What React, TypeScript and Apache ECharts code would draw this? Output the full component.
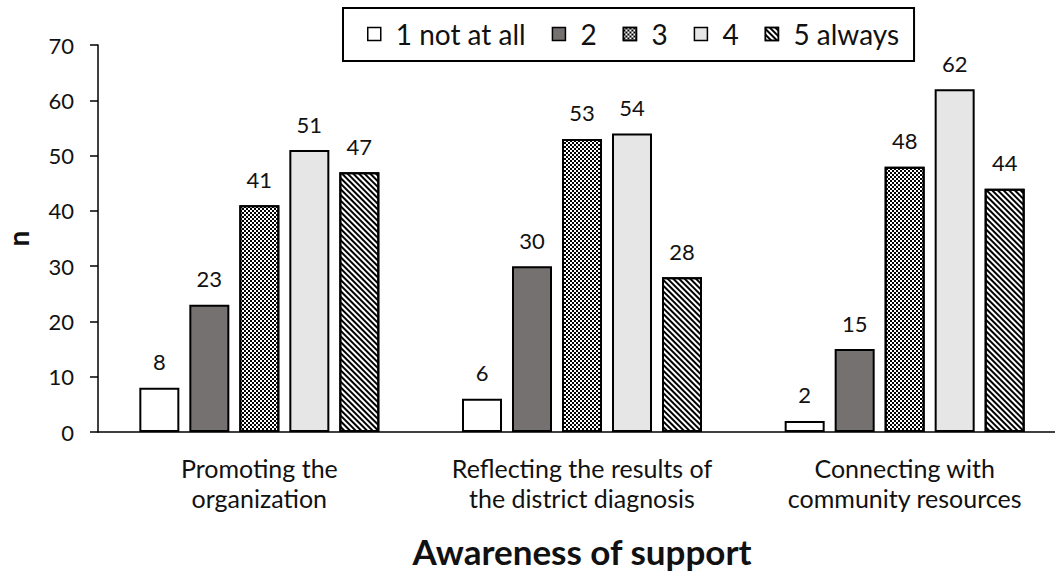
import React, { useEffect, useRef } from "react";
import * as echarts from "echarts";

const categories = [
  "Promoting the\norganization",
  "Reflecting the results of\nthe district diagnosis",
  "Connecting with\ncommunity resources",
];
const seriesNames = ["1 not at all", "2", "3", "4", "5 always"];
const s1 = [8, 6, 2];
const s2 = [23, 30, 15];
const s3 = [41, 53, 48];
const s4 = [51, 54, 62];
const s5 = [47, 28, 44];
const yTicks = [0, 10, 20, 30, 40, 50, 60, 70];

const FONT = "Lato";

export default function App() {
  const ref = useRef<HTMLDivElement>(null);
  useEffect(() => {
    if (!ref.current) return;
    const chart = echarts.init(ref.current, null, { renderer: "svg" });
    const values = [s1, s2, s3, s4, s5];
    const fills = ["#ffffff", "#767171", "#ffffff", "#e7e6e6", "#ffffff"];
    const decals: any[] = [
      null,
      null,
      {
        symbol: "rect",
        symbolSize: 1,
        color: "#000",
        dashArrayX: [[2, 2], [0, 2, 2, 0]],
        dashArrayY: [2, 0],
        rotation: 0,
      },
      null,
      {
        symbol: "rect",
        symbolSize: 1,
        color: "#000",
        dashArrayX: [1, 0],
        dashArrayY: [1.6, 1.4],
        rotation: Math.PI / 4,
      },
    ];
    const series = values.map((v, i) => ({
      name: seriesNames[i],
      type: "bar",
      data: v,
      barWidth: 40,
      barGap: "25%",
      itemStyle: {
        color: fills[i],
        borderColor: "#000",
        borderWidth: 2,
        ...(decals[i] ? { decal: decals[i] } : {}),
      },
      label: {
        show: true,
        position: "top",
        distance: 15,
        fontFamily: FONT,
        fontSize: 22,
        color: "#111",
      },
    }));
    chart.setOption({
      animation: false,
      backgroundColor: "#fff",
      textStyle: { fontFamily: FONT },
      legend: {
        data: seriesNames,
        left: 343,
        top: 8,
        padding: [12, 15, 13, 24],
        borderColor: "#000",
        borderWidth: 2,
        itemWidth: 13,
        itemHeight: 13,
        itemGap: 26,
        icon: "rect",
        itemStyle: { borderColor: "#000", borderWidth: 1.5 },
        textStyle: { fontFamily: FONT, fontSize: 28, color: "#111", padding: [0, 0, 0, 10] },
      },
      grid: { left: 98, top: 45, width: 968, height: 387, outerBoundsMode: "none", containLabel: false },
      xAxis: {
        type: "category",
        data: categories,
        name: "Awareness of support",
        nameLocation: "middle",
        nameGap: 101,
        nameTextStyle: { fontFamily: FONT, fontSize: 35, fontWeight: "bold", color: "#111" },
        axisLine: { lineStyle: { color: "#000", width: 1.5 } },
        axisTick: { show: false },
        axisLabel: {
          fontFamily: FONT,
          fontSize: 25,
          color: "#111",
          lineHeight: 30,
          margin: 21,
          interval: 0,
        },
      },
      yAxis: {
        type: "value",
        min: yTicks[0],
        max: yTicks[yTicks.length - 1],
        interval: 10,
        name: "n",
        nameLocation: "middle",
        nameGap: 66,
        nameRotate: 90,
        nameTextStyle: { fontFamily: FONT, fontSize: 28, fontWeight: "bold", color: "#111" },
        axisLine: { show: true, lineStyle: { color: "#000", width: 1.5 } },
        axisTick: { show: true, length: 8, lineStyle: { color: "#000", width: 1.5 } },
        splitLine: { show: false },
        axisLabel: { fontFamily: FONT, fontSize: 22, color: "#111", margin: 24 },
      },
      series,
    });
    return () => chart.dispose();
  }, []);
  return (
    <div
      ref={ref}
      style={{ position: "absolute", left: 0, top: 0, width: 1055, height: 576 }}
    />
  );
}
